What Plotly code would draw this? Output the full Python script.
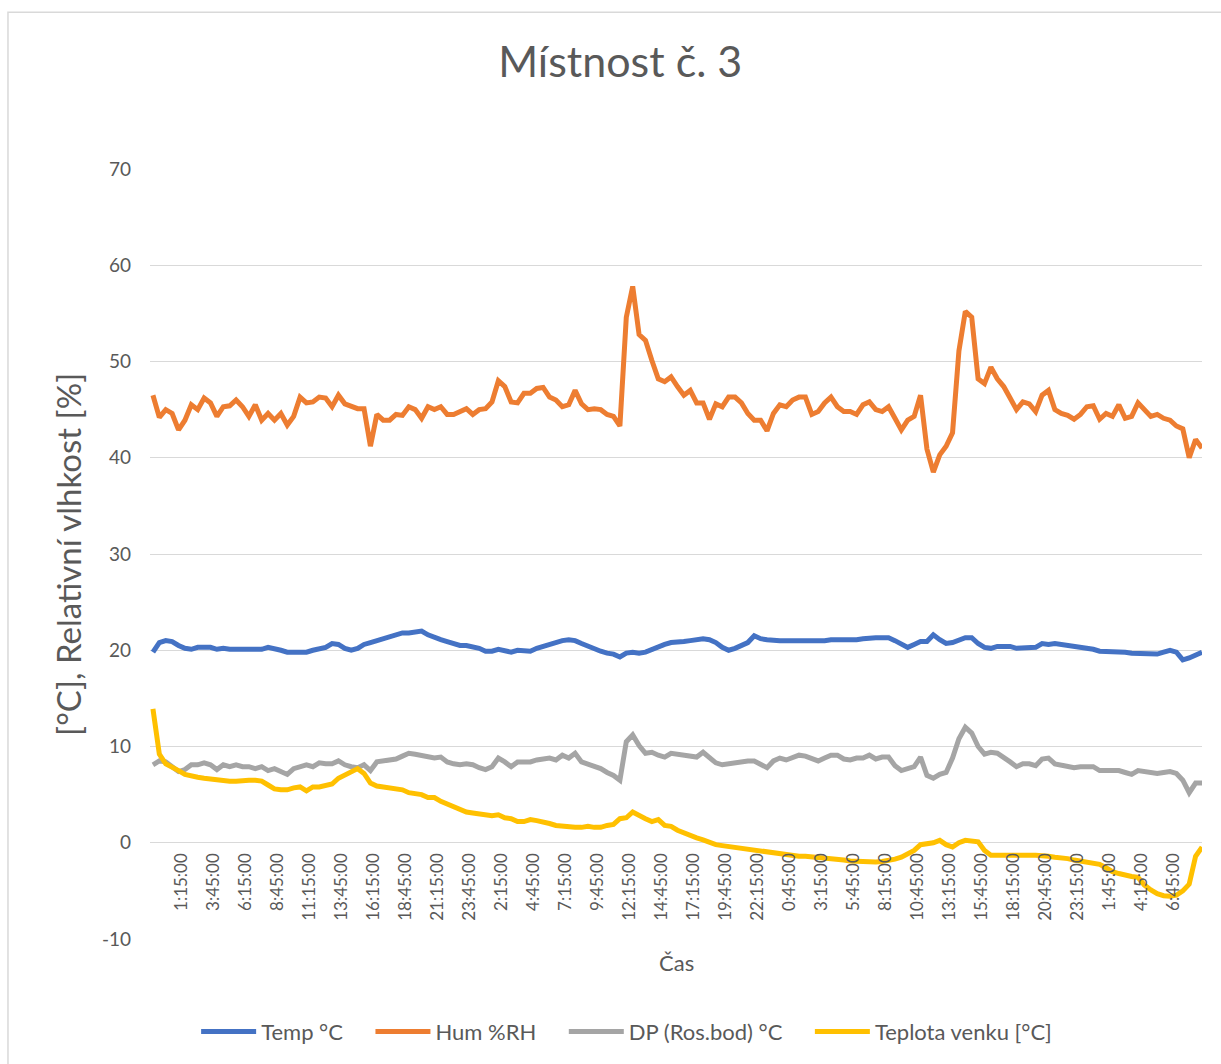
import plotly.graph_objects as go

# measurements every half hour, first one at 23:00 of day 0
temp = [
    19.8, 20.8, 21.0, 20.9, 20.5, 20.2, 20.1, 20.3, 20.3, 20.3,
    20.1, 20.2, 20.1, 20.1, 20.0, 20.0, 20.0, 20.1, 20.3, 20.2,
    20.0, 19.8, 19.8, 19.8, 19.8, 20.0, 20.1, 20.3, 20.7, 20.6,
    20.2, 20.0, 20.2, 20.6, 20.8, 21.0, 21.3, 21.4, 21.6, 21.8,
    21.8, 21.9, 22.0, 21.6, 21.3, 21.1, 20.9, 20.7, 20.5, 20.5,
    20.4, 20.2, 19.9, 19.9, 20.1, 20.0, 19.8, 20.0, 19.9, 19.9,
    20.2, 20.4, 20.7, 20.9, 21.0, 21.1, 21.0, 20.7, 20.4, 20.2,
    19.9, 19.7, 19.6, 19.3, 19.7, 19.8, 19.7, 19.8, 20.1, 20.4,
    20.6, 20.8, 20.8, 20.9, 21.0, 21.1, 21.2, 21.1, 20.8, 20.3,
    20.0, 20.2, 20.5, 20.8, 21.5, 21.2, 21.1, 21.0, 21.0, 21.0,
    21.0, 21.0, 21.0, 20.9, 20.9, 21.0, 21.1, 21.1, 21.0, 21.1,
    21.1, 21.2, 21.3, 21.3, 21.3, 21.3, 21.0, 20.6, 20.3, 20.6,
    20.9, 20.9, 21.6, 21.1, 20.7, 20.8, 21.0, 21.3, 21.3, 20.7,
    20.3, 20.2, 20.4, 20.4, 20.4, 20.2, 20.2, 20.3, 20.3, 20.7,
    20.6, 20.7, 20.6, 20.6, 20.5, 20.3, 20.2, 20.1, 19.9, 19.9,
    19.9, 19.8, 19.8, 19.7, 19.7, 19.7, 19.6, 19.6, 19.8, 20.0,
    19.8, 19.0, 19.2, 19.5, 19.8,
]

hum = [
    46.5, 44.2, 45.0, 44.6, 42.9, 43.9, 45.5, 45.0, 46.2, 45.7,
    44.3, 45.3, 45.4, 46.0, 45.3, 44.3, 45.5, 43.9, 44.6, 43.9,
    44.6, 43.4, 44.3, 46.3, 45.7, 45.8, 46.3, 46.2, 45.3, 46.5,
    45.6, 45.3, 45.1, 45.1, 41.2, 44.5, 43.9, 43.9, 44.5, 44.4,
    45.3, 45.0, 44.1, 45.3, 45.0, 45.3, 44.5, 44.5, 44.8, 45.1,
    44.5, 45.0, 45.1, 45.8, 48.0, 47.4, 45.8, 45.7, 46.7, 46.7,
    47.2, 47.3, 46.3, 46.0, 45.3, 45.5, 47.0, 45.6, 45.0, 45.1,
    45.0, 44.5, 44.3, 43.3, 54.6, 57.8, 52.8, 52.2, 50.1, 48.2,
    47.9, 48.4, 47.4, 46.5, 47.0, 45.7, 45.7, 44.0, 45.6, 45.3,
    46.3, 46.3, 45.7, 44.6, 43.9, 43.9, 42.8, 44.6, 45.5, 45.3,
    46.0, 46.3, 46.3, 44.5, 44.8, 45.7, 46.3, 45.3, 44.8, 44.8,
    44.5, 45.5, 45.8, 45.0, 44.8, 45.3, 44.1, 42.9, 43.9, 44.3,
    46.5, 40.9, 38.5, 40.3, 41.2, 42.6, 51.1, 55.2, 54.6, 48.2,
    47.7, 49.4, 48.2, 47.4, 46.2, 45.0, 45.8, 45.6, 44.8, 46.5,
    47.0, 45.0, 44.6, 44.4, 44.0, 44.5, 45.3, 45.4, 44.0, 44.6,
    44.3, 45.5, 44.1, 44.3, 45.7, 45.0, 44.3, 44.5, 44.1, 43.9,
    43.3, 43.0, 40.0, 41.9, 41.0,
]

dew_point = [
    8.1, 8.5, 8.4, 7.9, 7.4, 7.6, 8.1, 8.1, 8.3, 8.1,
    7.6, 8.1, 7.9, 8.1, 7.9, 7.9, 7.7, 7.9, 7.5, 7.7,
    7.4, 7.1, 7.7, 7.9, 8.1, 7.9, 8.3, 8.2, 8.2, 8.5,
    8.1, 7.9, 7.8, 8.1, 7.5, 8.4, 8.5, 8.5, 8.7, 9.0,
    9.3, 9.2, 9.1, 8.9, 8.8, 8.9, 8.4, 8.2, 8.1, 8.2,
    8.1, 7.8, 7.6, 7.9, 8.8, 8.4, 7.9, 8.4, 8.4, 8.4,
    8.6, 8.7, 8.8, 8.6, 9.1, 8.8, 9.3, 8.4, 8.2, 7.9,
    7.7, 7.3, 7.0, 6.5, 10.5, 11.2, 10.1, 9.3, 9.4, 9.1,
    8.9, 9.3, 9.2, 9.2, 9.1, 8.9, 9.4, 8.8, 8.3, 8.1,
    8.2, 8.4, 8.4, 8.5, 8.5, 8.2, 7.8, 8.5, 8.8, 8.6,
    8.9, 9.1, 9.0, 8.8, 8.5, 8.8, 9.1, 9.1, 8.7, 8.6,
    8.8, 8.8, 9.1, 8.7, 8.9, 8.9, 8.0, 7.5, 7.7, 7.9,
    8.9, 7.0, 6.7, 7.1, 7.3, 8.8, 10.8, 12.0, 11.4, 10.0,
    9.2, 9.4, 9.3, 8.9, 8.4, 7.9, 8.2, 8.2, 8.0, 8.7,
    8.8, 8.2, 8.1, 7.9, 7.8, 7.9, 7.9, 7.9, 7.5, 7.5,
    7.4, 7.5, 7.3, 7.1, 7.5, 7.4, 7.3, 7.2, 7.3, 7.4,
    7.2, 6.5, 5.2, 6.2, 6.2,
]

outside = [
    13.9, 9.2, 8.2, 7.9, 7.5, 7.1, 6.9, 6.8, 6.7, 6.6,
    6.6, 6.5, 6.4, 6.4, 6.5, 6.5, 6.5, 6.4, 6.0, 5.6,
    5.5, 5.5, 5.7, 5.8, 5.4, 5.8, 5.8, 6.0, 6.1, 6.7,
    7.0, 7.4, 7.7, 7.2, 6.2, 5.9, 5.8, 5.8, 5.7, 5.5,
    5.2, 5.1, 5.0, 4.7, 4.7, 4.3, 4.0, 3.7, 3.4, 3.2,
    3.1, 3.0, 2.9, 2.8, 2.9, 2.6, 2.5, 2.2, 2.2, 2.4,
    2.3, 2.2, 2.0, 1.8, 1.7, 1.7, 1.6, 1.6, 1.7, 1.6,
    1.6, 1.8, 1.9, 2.5, 2.6, 3.2, 2.8, 2.5, 2.2, 2.4,
    1.8, 1.7, 1.3, 1.0, 0.7, 0.5, 0.3, 0.0, -0.2, -0.3,
    -0.4, -0.5, -0.6, -0.7, -0.8, -0.9, -1.0, -1.1, -1.2, -1.3,
    -1.35, -1.4, -1.4, -1.45, -1.5, -1.6, -1.7, -1.75, -1.8, -1.9,
    -1.95, -2.0, -2.0, -2.0, -1.95, -1.85, -1.7, -1.5, -1.2, -0.8,
    -0.2, -0.1, 0.0, 0.25, -0.2, -0.45, 0.0, 0.25, 0.2, 0.1,
    -0.8, -1.3, -1.3, -1.35, -1.3, -1.3, -1.25, -1.3, -1.3, -1.3,
    -1.4, -1.5, -1.55, -1.65, -1.8, -1.9, -2.0, -2.1, -2.25, -2.6,
    -3.0, -3.2, -3.4, -3.5, -3.6, -4.4, -4.9, -5.3, -5.5, -5.55,
    -5.45, -5.0, -4.3, -1.4, -0.45,
]

time_labels = [
    "1:15:00", "3:45:00", "6:15:00", "8:45:00", "11:15:00", "13:45:00",
    "16:15:00", "18:45:00", "21:15:00", "23:45:00", "2:15:00", "4:45:00",
    "7:15:00", "9:45:00", "12:15:00", "14:45:00", "17:15:00", "19:45:00",
    "22:15:00", "0:45:00", "3:15:00", "5:45:00", "8:15:00", "10:45:00",
    "13:15:00", "15:45:00", "18:15:00", "20:45:00", "23:15:00", "1:45:00",
    "4:15:00", "6:45:00",
]

y_ticks = [-10, 0, 10, 20, 30, 40, 50, 60, 70]
y_labels = ["-10", "0", "10", "20", "30", "40", "50", "60", "70"]

series = [
    ("Temp °C", temp, "#4472C4"),
    ("Hum %RH", hum, "#ED7D31"),
    ("DP (Ros.bod) °C", dew_point, "#A5A5A5"),
    ("Teplota venku [°C]", outside, "#FFC000"),
]

# hours since midnight of the first day
hours = [-1 + 0.5 * i for i in range(len(temp))]
tick_hours = [1.25 + 2.5 * i for i in range(len(time_labels))]

FONT = "Lato, 'Open Sans', sans-serif"
GREY = "#595959"
PAD = "\u00a0" * 4  # excel leaves wide gaps between legend entries

fig = go.Figure()
for name, values, color in series:
    fig.add_trace(go.Scatter(
        x=hours, y=values, name=name + PAD, mode="lines",
        line=dict(color=color, width=5),
    ))

fig.update_layout(
    width=1221, height=1064,
    margin=dict(l=150, r=19, t=169, b=124),
    paper_bgcolor="white", plot_bgcolor="white",
    font=dict(family=FONT, color=GREY),
    title=dict(text="Místnost č. 3", x=0.508, xanchor="center", y=0.942, yanchor="middle",
               font=dict(size=43, color=GREY)),
    xaxis=dict(
        range=[-1.23, 81.0], anchor="free", position=0.125,
        showgrid=False, zeroline=False, showline=False, ticks="",
        tickmode="array", tickvals=tick_hours, ticktext=time_labels,
        tickangle=-90, tickfont=dict(size=17, color=GREY), ticklabelstandoff=6,
    ),
    yaxis=dict(
        range=[-10, 70], tickmode="array", tickvals=y_ticks, ticktext=y_labels,
        showgrid=True, gridcolor="#D9D9D9", gridwidth=1,
        zeroline=False, showline=False, ticks="",
        tickfont=dict(size=19, color=GREY), ticklabelstandoff=18,
    ),
    legend=dict(orientation="h", x=0.464, xanchor="center", y=-0.119, yanchor="middle",
                font=dict(size=22, color=GREY), itemwidth=55),
    annotations=[
        dict(text="[°C], Relativní vlhkost [%]", xref="paper", yref="paper",
             x=-0.078, y=0.5, xanchor="center", yanchor="middle", textangle=-90,
             showarrow=False, font=dict(size=33, color=GREY)),
        dict(text="Čas", xref="paper", yref="paper", x=0.5, y=-0.031,
             xanchor="center", yanchor="middle",
             showarrow=False, font=dict(size=22, color=GREY)),
    ],
    shapes=[
        dict(type="rect", xref="paper", yref="paper", x0=-0.135, x1=1.05, y0=-0.2, y1=1.2036,
             line=dict(color="#D9D9D9", width=1.5), layer="below"),
    ],
)

fig.write_html("out.html", config={"displayModeBar": False},
               post_script="document.body.style.margin='0';")
